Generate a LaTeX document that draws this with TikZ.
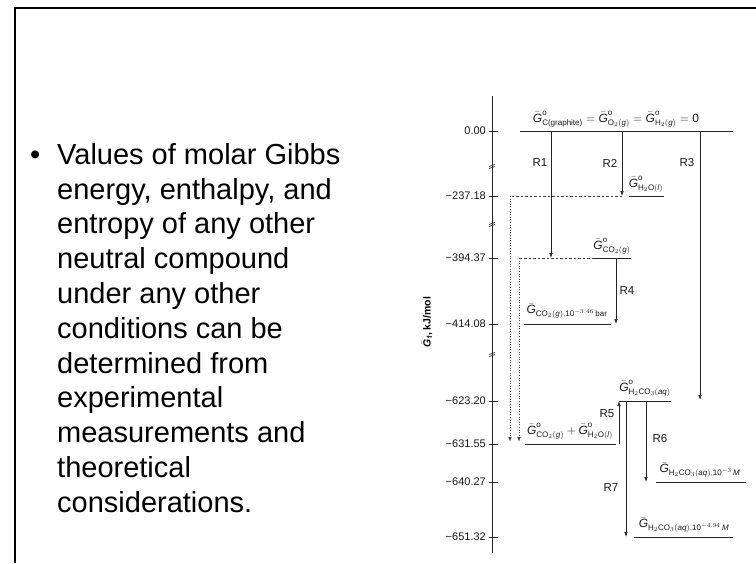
\documentclass[tikz,border=0pt]{standalone}
\usepackage{fix-cm}
\usepackage{amsmath}
\usepackage{fontspec}
\setmainfont{Liberation Sans}
\usetikzlibrary{arrows.meta}
\newcommand{\Gb}{\bar{\mbox{\itshape G}}}
\newcommand{\Go}{\Gb^{\text{o}}}
\begin{document}
\begin{tikzpicture}[x=1pt,y=-1pt,
  frameline/.style={line width=2.6pt, black},
  lev/.style={line width=0.9pt, black!85},
  arr/.style={line width=0.7pt, black!85, -{Latex[length=5pt,width=3.6pt]}},
  dsh/.style={line width=0.7pt, black!75, dash pattern=on 2.5pt off 2pt},
  dotl/.style={line width=0.9pt, black!75, dash pattern=on 1pt off 1.6pt, -{Latex[length=5pt,width=3.6pt]}},
  lab/.style={font=\fontsize{12}{14}\selectfont, inner sep=0pt, text=black!90},
  rl/.style={font=\fontsize{11.5}{13}\selectfont, inner sep=0pt, text=black!90},
  tk/.style={font=\fontsize{11}{13}\selectfont, anchor=east, inner sep=0pt, text=black!90},
  axisline/.style={line width=0.9pt, black!85},
  body/.style={font=\fontsize{29}{34.8}\selectfont, inner sep=0pt, align=left}]
\useasboundingbox (0,0) rectangle (756,563);
% frame
\coordinate (ftl) at (15,8);
\coordinate (ftr) at (756,8);
\coordinate (fbl) at (15,563);
\draw[frameline] (fbl) -- (ftl) -- (ftr);
% bullet text
\node[body, anchor=base west] (bul) at (30,164) {\textbullet};
\node[body, anchor=north west] (txt) at (57,143) {Values of molar Gibbs\\energy, enthalpy, and\\entropy of any other\\neutral compound\\under any other\\conditions can be\\determined from\\experimental\\measurements and\\theoretical\\considerations.};
% axis
\coordinate (ax1) at (492,96);
\coordinate (ax2) at (492,553);
\draw[axisline] (ax1) -- (ax2);
\foreach \yy/\lbl/\nm in {131/0.00/a, 196/−237.18/b, 258/−394.37/c, 324/−414.08/d, 401/−623.20/e, 444/−631.55/f, 482/−640.27/g, 537/−651.32/h}{
  \coordinate (tk\nm) at (498,\yy);
  \coordinate (tj\nm) at (489,\yy);
  \node[tk] (tl\nm) at (486,\yy) {\lbl};
  \draw[axisline] (tj\nm) -- (tk\nm);
}
% axis breaks
\foreach \yy in {166,224,354}{
  \draw[line width=0.7pt, black!80] (489,\yy+0.5) -- (495,\yy-1.5);
  \draw[line width=0.7pt, black!80] (489,\yy+2.5) -- (495,\yy+0.5);
}
\node[rotate=90, font=\bfseries\fontsize{10.5}{12}\selectfont, inner sep=0pt] (ylab) at (427,322) {$\Gb_{\text{f}}$, kJ/mol};
% levels
\coordinate (l0a) at (520,131); \coordinate (l0b) at (733,131);
\draw[lev] (l0a) -- (l0b);
\coordinate (lwa) at (629,196); \coordinate (lwb) at (664,196);
\draw[lev] (lwa) -- (lwb);
\coordinate (lca) at (594,258); \coordinate (lcb) at (631,258);
\draw[lev] (lca) -- (lcb);
\coordinate (lda) at (524,324); \coordinate (ldb) at (611,324);
\draw[lev] (lda) -- (ldb);
\coordinate (lea) at (619,401); \coordinate (leb) at (671,401);
\draw[lev] (lea) -- (leb);
\coordinate (lfa) at (525,444); \coordinate (lfb) at (616,444);
\draw[lev] (lfa) -- (lfb);
\coordinate (lga) at (656,482); \coordinate (lgb) at (746,482);
\draw[lev] (lga) -- (lgb);
\coordinate (lha) at (634,537); \coordinate (lhb) at (733,537);
\draw[lev] (lha) -- (lhb);
% reactions
\coordinate (r1a) at (551,131); \coordinate (r1b) at (551,258);
\draw[arr] (r1a) -- (r1b);
\coordinate (r2a) at (622,131); \coordinate (r2b) at (622,196);
\draw[arr] (r2a) -- (r2b);
\coordinate (r3a) at (700,131); \coordinate (r3b) at (700,400);
\draw[arr] (r3a) -- (r3b);
\coordinate (r4a) at (616,258); \coordinate (r4b) at (616,324);
\draw[arr] (r4a) -- (r4b);
\coordinate (r5a) at (619,444); \coordinate (r5b) at (619,401);
\draw[arr] (r5a) -- (r5b);
\coordinate (r6a) at (646,401); \coordinate (r6b) at (646,482);
\draw[arr] (r6a) -- (r6b);
\coordinate (r7a) at (626,401); \coordinate (r7b) at (626,537);
\draw[arr] (r7a) -- (r7b);
% dashed paths
\coordinate (d1c) at (510,196); \coordinate (d1e) at (510,442);
\draw[dsh] (r2b) -- (d1c);
\draw[dotl] (d1c) -- (d1e);
\coordinate (d2c) at (519,258); \coordinate (d2e) at (519,442);
\draw[dsh] (lca) -- (d2c);
\draw[dotl] (d2c) -- (d2e);
% reaction labels
\node[rl] (R1) at (540,163) {R1};
\node[rl] (R2) at (610,163) {R2};
\node[rl] (R3) at (687,163) {R3};
\node[rl] (R4) at (627,291) {R4};
\node[rl] (R5) at (607,414) {R5};
\node[rl] (R6) at (660,439) {R6};
\node[rl] (R7) at (611,488) {R7};
% level labels
\node[lab] (top) at (616,119) {$\Go_{\text{C(graphite)}} = \Go_{\text{O}_2(\textit{g})} = \Go_{\text{H}_2(\textit{g})} = \text{0}$};
\node[lab] (gw) at (646,184) {$\Go_{\text{H}_2\text{O}(\textit{l})}$};
\node[lab] (gc) at (612,246) {$\Go_{\text{CO}_2(\textit{g})}$};
\node[lab] (gcb) at (567,311) {$\Gb_{\text{CO}_2(\textit{g}),\text{10}^{-3.46}\,\text{bar}}$};
\node[lab] (gh) at (645,388) {$\Go_{\text{H}_2\text{CO}_3(\textit{aq})}$};
\node[lab] (gsum) at (570,431) {$\Go_{\text{CO}_2(\textit{g})} + \Go_{\text{H}_2\text{O}(\textit{l})}$};
\node[lab] (gh3) at (700,470) {$\Gb_{\text{H}_2\text{CO}_3(\textit{aq}),\text{10}^{-3}\,\textit{M}}$};
\node[lab] (gh5) at (684,525) {$\Gb_{\text{H}_2\text{CO}_3(\textit{aq}),\text{10}^{-4.94}\,\textit{M}}$};
\end{tikzpicture}
\end{document}
